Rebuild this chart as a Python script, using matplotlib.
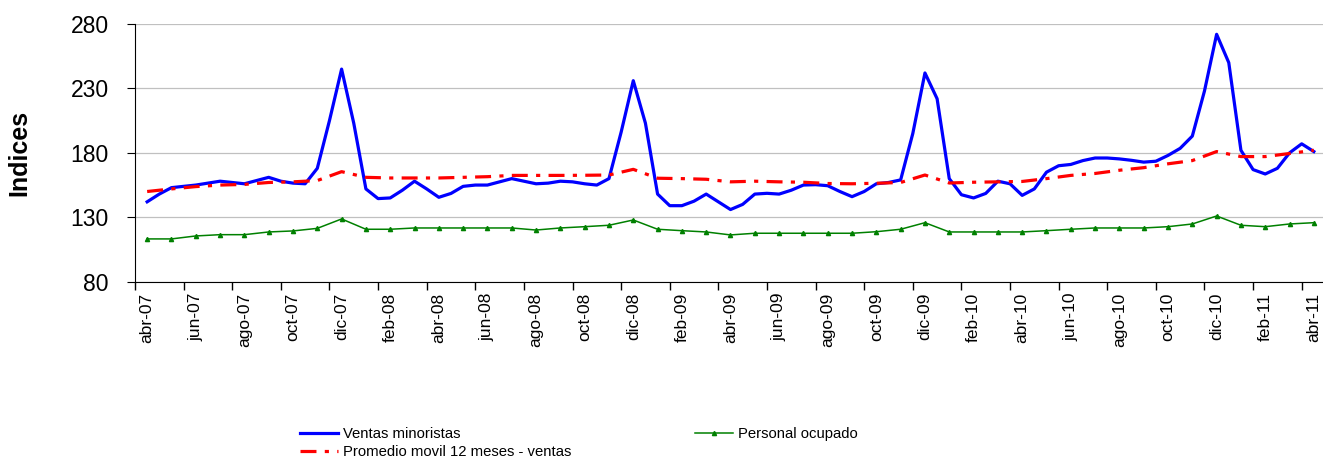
import numpy as np
import matplotlib
matplotlib.use('Agg')
import matplotlib.pyplot as plt

plt.rcParams['font.family'] = ['Liberation Sans', 'DejaVu Sans']

# etiquetas del eje x (cada 2 meses, abr-07 .. abr-11)
tick_labels = ['abr-07', 'jun-07', 'ago-07', 'oct-07', 'dic-07',
               'feb-08', 'abr-08', 'jun-08', 'ago-08', 'oct-08', 'dic-08',
               'feb-09', 'abr-09', 'jun-09', 'ago-09', 'oct-09', 'dic-09',
               'feb-10', 'abr-10', 'jun-10', 'ago-10', 'oct-10', 'dic-10',
               'feb-11', 'abr-11']

# ventas minoristas, leidas cada medio mes
ventas = [142, 148, 153, 154, 155, 156.5, 158, 157, 156, 158.5,
          161, 158, 156.5, 156, 168, 205, 245, 203, 152, 144.5,
          145, 151, 158, 152, 145.5, 148.5, 154, 155, 155, 157.5,
          160, 158, 156, 156.5, 158, 157.5, 156, 155, 160, 196,
          236, 203, 148, 139, 139, 142.5, 148, 142, 136, 140,
          148, 148.6, 148, 151, 155, 155.3, 154.5, 150, 146, 150,
          156, 157, 159, 195, 242, 222, 160, 147.5, 145, 148.5,
          158, 156, 147, 152, 165, 170, 171, 174, 176, 176,
          175.3, 174.2, 172.8, 173.5, 178, 183.5, 193, 228, 272, 250,
          182, 167, 163.6, 168, 180, 187, 181]

# promedio movil 12 meses (mensual)
promedio = [150, 152, 153.8, 155, 155.5, 157, 157.5, 158.5, 165.4, 161,
            160.5, 160.5, 160.5, 161, 161.5, 162.5, 162.5, 162.5, 162.6, 162.8,
            167.2, 160.3, 160, 159.5, 157.5, 158, 157.5, 157.2, 156.2, 156,
            156.4, 157, 162.8, 156.6, 157.2, 157.5, 157.8, 160, 162.5, 164,
            166.5, 168.5, 171.5, 174, 181, 177.1, 177.1, 179.5, 182]

# personal ocupado (mensual)
personal = [113.2, 113.2, 115.5, 116.5, 116.5, 118.6, 119.4, 121.4, 128.7, 120.7,
            120.7, 121.7, 121.7, 121.7, 121.7, 121.7, 120.1, 121.7, 122.7, 123.8,
            127.9, 120.7, 119.6, 118.6, 116.3, 117.6, 117.6, 117.6, 117.6, 117.6,
            118.8, 120.7, 125.8, 118.6, 118.6, 118.6, 118.6, 119.6, 120.7, 121.7,
            121.7, 121.7, 122.7, 124.8, 131.0, 123.8, 122.7, 124.8, 125.8]

n = len(personal)
x_month = np.arange(n)
x_half = np.arange(len(ventas)) / 2.0

fig = plt.figure(figsize=(13.23, 4.61), dpi=100)
ax = fig.add_axes([135 / 1323, 1 - 281.7 / 461, 1191 / 1323, (281.7 - 24) / 461])

ax.set_ylim(80, 280)
ax.set_xlim(-0.5, n - 0.5)
ax.set_yticks([80, 130, 180, 230, 280])
ax.yaxis.grid(True, color='#c0c0c0', lw=0.9)
ax.set_axisbelow(True)

l1, = ax.plot(x_half, ventas, color='#0000ff', lw=2.3, solid_joinstyle='round')
l3, = ax.plot(x_month, personal, color='#008000', lw=1.1, marker='^', ms=3)
l2, = ax.plot(x_month, promedio, color='#ff0000', lw=2.3,
              linestyle=(0, (5, 2.6, 1.3, 2.6)))

for s in ['top', 'right']:
    ax.spines[s].set_visible(False)
ax.spines['left'].set_color('#000000')
ax.spines['bottom'].set_color('#000000')

ax.set_xticks(np.arange(0, n, 2))
ax.set_xticklabels(tick_labels, rotation=90, fontsize=12.5)
ax.tick_params(axis='x', which='major', length=0, pad=8)
ax.set_xticks(np.arange(-0.5, n, 2), minor=True)
ax.tick_params(axis='x', which='minor', length=6, direction='out', width=1)
ax.tick_params(axis='y', labelsize=16.5, length=6, pad=13)

fig.text(19 / 1323, 1 - 153 / 461, 'Indices', rotation=90, ha='center', va='center',
         fontsize=18, fontweight='bold')

fig.legend([l1, l2, l3],
           ['Ventas minoristas', 'Promedio movil 12 meses - ventas', 'Personal ocupado'],
           loc='upper left', bbox_to_anchor=(293 / 1323, 1 - 420 / 461),
           ncol=2, frameon=False, fontsize=10.7, handlelength=2.55,
           handletextpad=0.34, columnspacing=8.3, labelspacing=0.25, borderpad=0)

fig.savefig('out.png', dpi=100)
